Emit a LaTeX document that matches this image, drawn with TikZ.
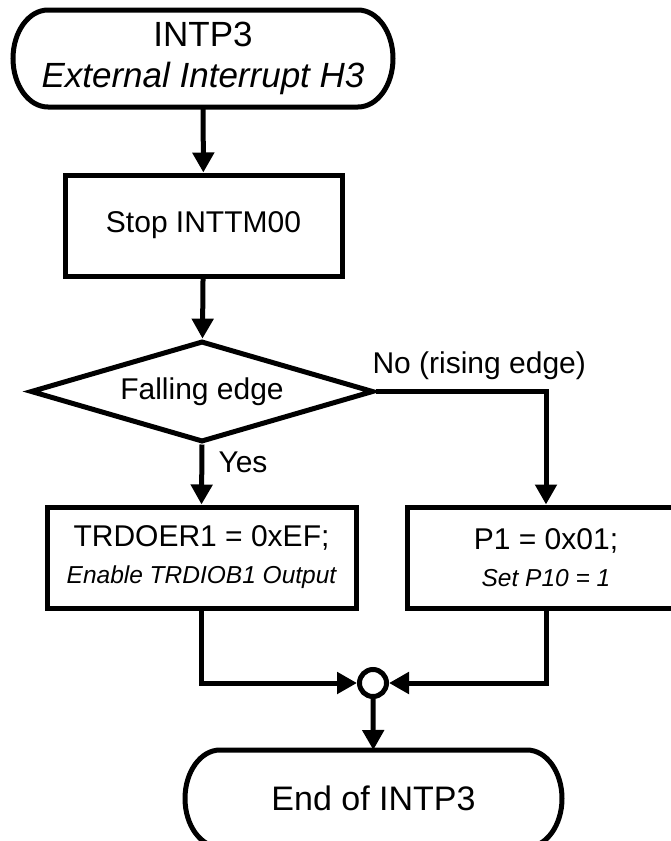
\documentclass[tikz,border=0pt]{standalone}
\usepackage{fontspec}
\setmainfont{Liberation Sans}
\usetikzlibrary{arrows.meta}
\usetikzlibrary{shapes.geometric}

\tikzset{
  flow/.style={-{Triangle[length=20pt,width=21pt]}},
  procbox/.style={draw, rectangle, minimum height=101pt, inner sep=0pt, align=center, font=\fontsize{30}{37}\selectfont},
  decision/.style={draw, diamond, aspect=3.4, minimum width=343pt, minimum height=101pt, inner sep=0pt, font=\fontsize{30}{36}\selectfont},
  terminal/.style={rectangle, minimum height=97pt, inner sep=0pt, outer sep=0pt, align=center, font=\fontsize{35}{41}\selectfont},
  junction/.style={draw, circle, minimum size=27pt, inner sep=0pt},
  lbl/.style={inner sep=0pt, font=\fontsize{30}{36}\selectfont},
}

% outline of a start/end node, with elliptic ends
\newcommand{\termoutline}[1]{%
  \draw ([xshift=35pt]#1.north west) -- ([xshift=-35pt]#1.north east)
    .. controls ([xshift=-15.7pt]#1.north east) and ([yshift=26.8pt]#1.east) .. (#1.east)
    .. controls ([yshift=-26.8pt]#1.east) and ([xshift=-15.7pt]#1.south east) .. ([xshift=-35pt]#1.south east)
    -- ([xshift=35pt]#1.south west)
    .. controls ([xshift=15.7pt]#1.south west) and ([yshift=-26.8pt]#1.west) .. (#1.west)
    .. controls ([yshift=26.8pt]#1.west) and ([xshift=15.7pt]#1.north west) .. ([xshift=35pt]#1.north west)
    -- cycle;}
\newcommand{\subnote}[1]{{\fontsize{24.5}{30}\selectfont\itshape #1}}

\begin{document}
\begin{tikzpicture}[x=1pt, y=-1pt, line width=5pt]
  \useasboundingbox (0,0) rectangle (670,841);

  % ---------- Start ----------
  \node[terminal, minimum width=380pt] (start) at (203,58.5) {INTP3\\\textit{External Interrupt H3}};
  \termoutline{start}

  % ---------- Steps ----------
  \node[procbox, minimum width=277pt] (stop) at (203.5,225.5) {Stop INTTM00};
  \node[decision] (edge) at (202,391.5) {Falling edge};
  \node[procbox, minimum width=309pt] (trd) at (201.5,557.5) {TRDOER1 = 0xEF;\\\subnote{Enable TRDIOB1 Output}};
  \node[procbox, minimum width=278pt] (port) at (546,557.5) {P1 = 0x01;\\\subnote{Set P10 = 1}};

  % ---------- Join and end ----------
  \node[junction] (join) at (373,683) {};
  \node[terminal, minimum width=377pt, font=\fontsize{34}{40}\selectfont] (finish) at (373.5,798.5) {End of INTP3};
  \termoutline{finish}

  % ---------- Labels ----------
  \node[lbl, anchor=base west] (yes) at (216,472) {Yes};
  \node[lbl, anchor=base west] (no) at (370,373) {No (rising edge)};

  % ---------- Lines ----------
  \draw[flow] (start) -- (stop);
  \draw[flow] (stop) -- (edge);
  \draw[flow] (edge.south) -- (trd.north);
  \draw[flow] (edge.east) -| (port.north);
  \draw[flow] (trd.south) |- (join.west);
  \draw[flow] (port.south) |- (join.east);
  \draw[flow] (join) -- (finish);
\end{tikzpicture}
\end{document}
